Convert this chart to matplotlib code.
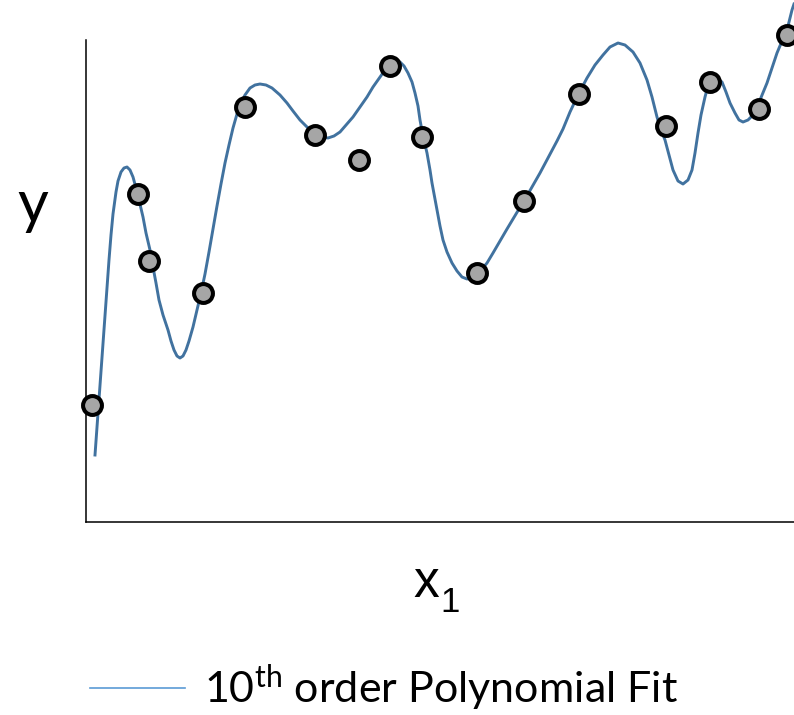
import matplotlib
matplotlib.use("Agg")
import matplotlib.pyplot as plt
from matplotlib.lines import Line2D

plt.rcParams["font.family"] = ["Lato", "DejaVu Sans"]
plt.rcParams["mathtext.fontset"] = "custom"
plt.rcParams["mathtext.rm"] = "Lato"
plt.rcParams["mathtext.it"] = "Lato:italic"

# Observed samples
x_obs = [6, 52, 63, 117, 159, 229, 273, 304, 336, 391, 438, 493, 580, 624, 673, 701]
y_obs = [117, 328, 261, 229, 415, 387, 362, 456, 385, 249, 321, 428, 396, 440, 413, 487]

# 10th order polynomial fit, evaluated along x
x_fit = [9, 11, 13, 15, 17, 19, 21, 23, 25, 27, 30, 32, 35, 38, 41, 44, 47, 50, 53,
         57, 60, 64, 67, 70, 73, 77, 82, 85, 88, 91, 94, 97, 100, 103, 107, 111,
         115, 119, 123, 127, 131, 135, 139, 143, 147, 151, 155, 159, 164, 169, 174,
         180, 186, 194, 201, 207, 214, 221, 229, 235, 242, 248, 254, 260, 267, 274,
         281, 287, 294, 299, 304, 309, 314, 318, 322, 326, 329, 332, 334, 337, 341,
         344, 346, 349, 351, 354, 357, 361, 366, 371, 376, 381, 386, 391, 396, 401,
         407, 414, 421, 427, 433, 438, 446, 454, 462, 471, 477, 484, 492, 501, 509,
         517, 524, 532, 539, 547, 554, 561, 566, 571, 575, 579, 583, 587, 592, 597,
         602, 606, 609, 612, 615, 619, 622, 626, 631, 636, 640, 644, 649, 653, 657,
         662, 667, 674, 681, 686, 691, 696, 701, 706, 708]
y_fit = [67, 95, 123, 152, 180, 208, 236, 262, 287, 308, 330, 341, 350, 354, 355,
         352, 345, 334, 322, 305, 289, 272, 255, 239, 222, 207, 192, 181, 172, 166,
         164, 166, 172, 181, 195, 212, 229, 248, 270, 293, 316, 338, 359, 377, 394,
         408, 419, 427, 434, 437, 438, 437, 434, 427, 419, 411, 402, 395, 388, 385,
         384, 386, 390, 397, 405, 415, 425, 435, 445, 452, 457, 460, 460, 456, 449,
         440, 429, 416, 402, 386, 369, 352, 339, 323, 312, 296, 282, 270, 259, 251,
         245, 243, 244, 248, 253, 259, 269, 281, 293, 303, 313, 321, 335, 349, 364,
         381, 393, 410, 427, 444, 457, 467, 475, 479, 477, 470, 459, 442, 425, 405,
         392, 382, 367, 352, 341, 338, 342, 352, 369, 389, 407, 425, 436, 442, 443,
         440, 430, 419, 409, 402, 400, 402, 407, 422, 439, 454, 469, 481, 492, 512,
         518]

legend_label = r"10$^{\mathrm{th}}$ order Polynomial Fit"

fig = plt.figure(figsize=(7.94, 7.15), dpi=100)
ax = fig.add_axes([86 / 794, 193 / 715, 708 / 794, 522 / 715])
ax.set_xlim(0, 708)
ax.set_ylim(0, 522)

ax.plot(x_fit, y_fit, color="#41729f", lw=2.1, solid_joinstyle="round",
        clip_on=False, zorder=2)
ax.plot(x_obs, y_obs, linestyle="none", marker="o", ms=13.6, mew=2.9,
        mfc="#a6a6a6", mec="black", clip_on=False, zorder=3)

for side in ("top", "right"):
    ax.spines[side].set_visible(False)
ax.spines["left"].set_bounds(0, 482)
for side in ("left", "bottom"):
    ax.spines[side].set_linewidth(1.1)
    ax.spines[side].set_color("black")
ax.set_xticks([])
ax.set_yticks([])
ax.patch.set_alpha(0)

fig.text(33 / 794, 1 - 206 / 715, "y", fontsize=43, ha="center", va="center",
         family=["Lato", "DejaVu Sans"])
fig.text(426.5 / 794, 1 - 597 / 715, "x", fontsize=37, ha="center", va="baseline",
         family=["Liberation Sans", "DejaVu Sans"])
fig.text(440 / 794, 1 - 612 / 715, "1", fontsize=25, ha="left", va="baseline",
         family=["Liberation Sans", "DejaVu Sans"])

proxy = Line2D([], [], color="#5b9bd5", lw=1.2)
fig.legend([proxy], [legend_label], loc="center left",
           bbox_to_anchor=(90 / 794, 1 - 688 / 715), frameon=False,
           borderpad=0, borderaxespad=0, handlelength=2.2, handletextpad=0.44,
           fontsize=31)

fig.savefig("out.png", dpi=100)
